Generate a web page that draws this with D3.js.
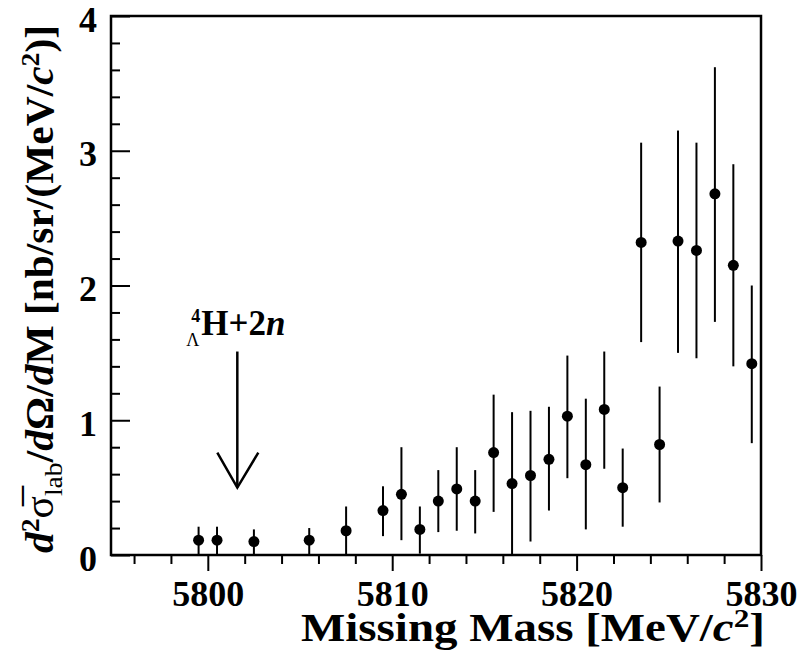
<!DOCTYPE html>
<html>
<head>
<meta charset="utf-8">
<script src="https://cdn.jsdelivr.net/npm/d3@7"></script>
<style>
body { margin: 0; background: #fff; }
svg text { font-family: "Liberation Serif", "Times New Roman", serif; font-weight: bold; fill: #000; }
</style>
</head>
<body>
<div id="chart"></div>
<script>
// bin centres of the missing mass spectrum (MeV/c^2)
var mass = [5799.5, 5800.5, 5802.5, 5805.5, 5807.5, 5809.5, 5810.5, 5811.5, 5812.5, 5813.5,
    5814.5, 5815.5, 5816.5, 5817.5, 5818.5, 5819.5, 5820.5, 5821.5, 5822.5, 5823.5,
    5824.5, 5825.5, 5826.5, 5827.5, 5828.5, 5829.5];
// cross section values nb/sr/(MeV/c^2)
var xsec = [0.11, 0.11, 0.10, 0.11, 0.18, 0.33, 0.45, 0.19, 0.40, 0.49,
    0.40, 0.76, 0.53, 0.59, 0.71, 1.03, 0.67, 1.08, 0.50, 2.32,
    0.82, 2.33, 2.26, 2.68, 2.15, 1.42];
var errLow = [0.11, 0.11, 0.10, 0.11, 0.18, 0.19, 0.34, 0.18, 0.23, 0.31,
    0.24, 0.44, 0.53, 0.49, 0.38, 0.46, 0.48, 0.44, 0.29, 0.74,
    0.43, 0.83, 0.80, 0.95, 0.75, 0.59];
var errHigh = [0.10, 0.10, 0.09, 0.09, 0.18, 0.18, 0.35, 0.17, 0.23, 0.31,
    0.23, 0.43, 0.53, 0.48, 0.39, 0.45, 0.49, 0.43, 0.29, 0.74,
    0.43, 0.82, 0.80, 0.94, 0.75, 0.58];

var xTicks = [5800, 5810, 5820, 5830];
var xMinorTicks = [5796, 5798, 5802, 5804, 5806, 5808, 5812, 5814, 5816, 5818, 5822, 5824, 5826, 5828];
var yTicks = [0, 1, 2, 3, 4];
var yMinorTicks = [0.2, 0.4, 0.6, 0.8, 1.2, 1.4, 1.6, 1.8, 2.2, 2.4, 2.6, 2.8, 3.2, 3.4, 3.6, 3.8];

// threshold marker
var threshold = {mass: 5801.6, top: 1.51, tip: 0.5};

var margin = {top: 16, right: 41, bottom: 106, left: 111},
    width = 802 - margin.left - margin.right,
    height = 661 - margin.top - margin.bottom;

var svg = d3.select("#chart").append("svg")
    .attr("width", 802)
    .attr("height", 661)
    .append("g")
    .attr("transform", "translate(" + margin.left + "," + margin.top + ")");

var x = d3.scaleLinear().domain([5794.75, 5830]).range([0, width]);
var y = d3.scaleLinear().domain([0, 4]).range([height, 0]);

var data = mass.map(function (m, i) {
    return {mass: m, value: xsec[i], lo: xsec[i] - errLow[i], hi: xsec[i] + errHigh[i]};
});

// x axis, ticks pointing down
svg.append("g")
    .attr("transform", "translate(0," + height + ")")
    .call(d3.axisBottom(x).tickValues(xTicks).tickSize(16).tickSizeOuter(0).tickPadding(9)
        .tickFormat(d3.format("d")));
svg.append("g")
    .attr("transform", "translate(0," + height + ")")
    .call(d3.axisBottom(x).tickValues(xMinorTicks).tickSize(9).tickSizeOuter(0).tickFormat(""));

// y axis, ticks pointing inside
var yAxis = svg.append("g")
    .call(d3.axisLeft(y).tickValues(yTicks).tickSize(-19).tickSizeOuter(0).tickPadding(14)
        .tickFormat(d3.format("d")));
yAxis.selectAll(".tick text").attr("dy", "0.42em");
svg.append("g")
    .call(d3.axisLeft(y).tickValues(yMinorTicks).tickSize(-9).tickSizeOuter(0).tickFormat(""));

svg.selectAll(".domain").remove();
svg.selectAll(".tick line").attr("stroke", "#000").attr("stroke-width", 2);
svg.selectAll(".tick text")
    .style("font-size", "36px")
    .style("font-family", '"Liberation Serif", serif')
    .style("font-weight", "bold");

// frame
svg.append("rect")
    .attr("x", 0)
    .attr("y", 0)
    .attr("width", width)
    .attr("height", height)
    .attr("fill", "none")
    .attr("stroke", "#000")
    .attr("stroke-width", 2.5);

// error bars
svg.selectAll(".err")
    .data(data)
    .enter().append("line")
    .attr("class", "err")
    .attr("x1", function (d) { return x(d.mass); })
    .attr("x2", function (d) { return x(d.mass); })
    .attr("y1", function (d) { return y(Math.max(d.lo, 0)); })
    .attr("y2", function (d) { return y(d.hi); })
    .attr("stroke", "#000")
    .attr("stroke-width", 2);

// points
svg.selectAll(".pt")
    .data(data)
    .enter().append("circle")
    .attr("class", "pt")
    .attr("cx", function (d) { return x(d.mass); })
    .attr("cy", function (d) { return y(d.value); })
    .attr("r", 5.5)
    .attr("fill", "#000");

// arrow for the 4LH + 2n threshold
var ax = x(threshold.mass),
    aTop = y(threshold.top),
    aTip = y(threshold.tip);
svg.append("line")
    .attr("x1", ax).attr("x2", ax)
    .attr("y1", aTop).attr("y2", aTip)
    .attr("stroke", "#000").attr("stroke-width", 2.5);
svg.append("path")
    .attr("d", "M" + (ax - 20) + "," + (aTip - 35) + "L" + ax + "," + aTip + "L" + (ax + 21) + "," + (aTip - 35))
    .attr("fill", "none")
    .attr("stroke", "#000")
    .attr("stroke-width", 2.5);

var label = svg.append("text")
    .attr("x", ax - 36)
    .attr("y", aTop - 17)
    .style("font-size", "35px");
label.append("tspan").text("H+2");
label.append("tspan").style("font-style", "italic").text("n");
svg.append("text")
    .attr("x", ax - 46)
    .attr("y", aTop - 30)
    .style("font-size", "18px")
    .text("4");
svg.append("text")
    .attr("x", ax - 51)
    .attr("y", aTop - 6)
    .style("font-size", "18px")
    .style("font-weight", "normal")
    .text("\u039B");

// x axis title
var xTitle = svg.append("text")
    .attr("x", width + 4)
    .attr("y", height + 86)
    .attr("text-anchor", "end")
    .attr("textLength", 464)
    .attr("lengthAdjust", "spacingAndGlyphs")
    .style("font-size", "39px");
xTitle.append("tspan").text("Missing Mass [MeV/");
xTitle.append("tspan").style("font-style", "italic").text("c");
xTitle.append("tspan").attr("dy", -14).style("font-size", "26px").text("2");
xTitle.append("tspan").attr("dy", 14).text("]");

// y axis title
var yTitle = svg.append("text")
    .attr("transform", "rotate(-90)")
    .attr("x", -9)
    .attr("y", -58)
    .attr("text-anchor", "end")
    .attr("textLength", 528)
    .attr("lengthAdjust", "spacingAndGlyphs")
    .style("font-size", "39px");
yTitle.append("tspan").style("font-style", "italic").text("d");
yTitle.append("tspan").attr("dy", -14).style("font-size", "26px").text("2");
yTitle.append("tspan").attr("dy", 14).style("font-weight", "normal").text("\u03C3\u0305");
yTitle.append("tspan").attr("dy", 9).style("font-size", "26px").style("font-weight", "normal").text("lab");
yTitle.append("tspan").attr("dy", -9).text("/");
yTitle.append("tspan").style("font-style", "italic").text("d");
yTitle.append("tspan").text("\u03A9/");
yTitle.append("tspan").style("font-style", "italic").text("d");
yTitle.append("tspan").text("M [nb/sr/(MeV/");
yTitle.append("tspan").style("font-style", "italic").text("c");
yTitle.append("tspan").attr("dy", -14).style("font-size", "26px").text("2");
yTitle.append("tspan").attr("dy", 14).text(")]");
</script>
</body>
</html>
